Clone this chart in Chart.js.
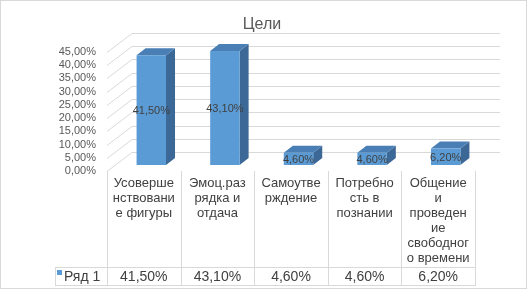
<!DOCTYPE html>
<html>
<head>
<meta charset="utf-8">
<script src="https://cdn.jsdelivr.net/npm/chart.js@4"></script>
<style>
  html, body { margin: 0; padding: 0; background: #fff; }
  canvas { display: block; }
</style>
</head>
<body>
<canvas id="myChart" width="528" height="290"></canvas>
<script>
const chartTitle = 'Цели'
const seriesName = 'Ряд 1'
const categories = [
    ['Усоверше', 'нствовани', 'е фигуры'],
    ['Эмоц.раз', 'рядка и', 'отдача'],
    ['Самоутве', 'рждение'],
    ['Потребно', 'сть в', 'познании'],
    ['Общение', 'и', 'проведен', 'ие', 'свободног', 'о времени']
]
const values = [41.5, 43.1, 4.6, 4.6, 6.2]
const yMax = 45
const yStep = 5

const FONT = '"Liberation Sans", Arial, sans-serif'
const wallDepth = { x: 25, y: 19 }
const barShift = { x: 7.5, y: 6 }
const barDepth = { x: 9, y: 7 }
const tableBottom = 285
const valueRowTop = 267
const tableLeft = 55

function fmtPct (v) {
    return v.toFixed(2).replace('.', ',') + '%'
}

// walls, title and frame
const backdrop = {
    id: 'backdrop',
    beforeDatasetsDraw (chart) {
        const ctx = chart.ctx
        const area = chart.chartArea
        const y = chart.scales.y
        ctx.save()
        ctx.strokeStyle = '#d9d9d9'
        ctx.lineWidth = 1
        ctx.strokeRect(0.5, 0.5, chart.width - 2, chart.height - 2)

        ctx.fillStyle = '#595959'
        ctx.font = '16px ' + FONT
        ctx.textAlign = 'center'
        ctx.textBaseline = 'alphabetic'
        ctx.fillText(chartTitle, 262, 29)

        ctx.strokeStyle = '#d9d9d9'
        for (let v = 0; v <= yMax; v += yStep) {
            const py = Math.round(y.getPixelForValue(v)) + 0.5
            ctx.beginPath()
            ctx.moveTo(area.left, py)
            ctx.lineTo(area.left + wallDepth.x, py - wallDepth.y)
            ctx.lineTo(area.right + wallDepth.x, py - wallDepth.y)
            ctx.stroke()
        }
        ctx.restore()
    },
    afterDatasetsDraw (chart) {
        const ctx = chart.ctx
        const meta = chart.getDatasetMeta(0)
        ctx.save()
        meta.data.forEach((bar, i) => {
            const p = bar.getProps(['x', 'y', 'base', 'width'], true)
            const left = p.x + barShift.x - p.width / 2
            const right = left + p.width
            const top = p.y - barShift.y
            const bottom = p.base - barShift.y
            // side
            ctx.fillStyle = '#3b6896'
            ctx.beginPath()
            ctx.moveTo(right, top)
            ctx.lineTo(right + barDepth.x, top - barDepth.y)
            ctx.lineTo(right + barDepth.x, bottom - barDepth.y)
            ctx.lineTo(right, bottom)
            ctx.closePath()
            ctx.fill()
            // top
            ctx.fillStyle = '#4a7fb6'
            ctx.beginPath()
            ctx.moveTo(left, top)
            ctx.lineTo(left + barDepth.x, top - barDepth.y)
            ctx.lineTo(right + barDepth.x, top - barDepth.y)
            ctx.lineTo(right, top)
            ctx.closePath()
            ctx.fill()
            // front
            ctx.fillStyle = '#5b9bd5'
            ctx.fillRect(left, top, p.width, bottom - top)

            ctx.fillStyle = '#404040'
            ctx.font = '11px ' + FONT
            ctx.textAlign = 'center'
            ctx.textBaseline = 'middle'
            ctx.fillText(fmtPct(values[i]), p.x + barShift.x, (top + bottom) / 2 + 1)
        })
        ctx.restore()
    }
}

// data table under the plot
const dataTable = {
    id: 'dataTable',
    afterDraw (chart) {
        const ctx = chart.ctx
        const area = chart.chartArea
        const x = chart.scales.x
        const colW = (area.right - area.left) / categories.length
        ctx.save()
        ctx.strokeStyle = '#d9d9d9'
        ctx.lineWidth = 1
        ctx.beginPath()
        for (let i = 0; i <= categories.length; i++) {
            const px = Math.round(area.left + i * colW) + 0.5
            ctx.moveTo(px, area.bottom)
            ctx.lineTo(px, tableBottom)
        }
        ctx.moveTo(tableLeft + 0.5, valueRowTop)
        ctx.lineTo(tableLeft + 0.5, tableBottom)
        ctx.moveTo(tableLeft, valueRowTop + 0.5)
        ctx.lineTo(area.right + 1, valueRowTop + 0.5)
        ctx.moveTo(tableLeft, tableBottom + 0.5)
        ctx.lineTo(area.right + 1, tableBottom + 0.5)
        ctx.stroke()

        ctx.fillStyle = '#404040'
        ctx.font = '13px ' + FONT
        ctx.textAlign = 'center'
        ctx.textBaseline = 'middle'
        categories.forEach((lines, i) => {
            const cx = x.getPixelForValue(i)
            lines.forEach((t, j) => ctx.fillText(t, cx, 183 + j * 15))
        })
        ctx.font = '14px ' + FONT
        values.forEach((v, i) => {
            ctx.fillText(fmtPct(v), x.getPixelForValue(i), (valueRowTop + tableBottom) / 2 + 1)
        })

        ctx.fillStyle = '#5b9bd5'
        ctx.fillRect(57, 270, 5, 5)
        ctx.fillStyle = '#404040'
        ctx.textAlign = 'left'
        ctx.fillText(seriesName, 64, (valueRowTop + tableBottom) / 2 + 1)
        ctx.restore()
    }
}

var ctx = document.getElementById('myChart').getContext('2d')
var myChart = new Chart(ctx, {
    type: 'bar',
    data: {
        labels: categories.map(c => c.join('')),
        datasets: [{
            label: seriesName,
            data: values,
            backgroundColor: 'rgba(0,0,0,0)',
            borderWidth: 0,
            categoryPercentage: 1,
            barPercentage: 0.4
        }]
    },
    options: {
        responsive: false,
        animation: false,
        layout: { padding: { left: 0, top: 52, right: 53, bottom: 119 } },
        plugins: {
            legend: { display: false },
            title: { display: false },
            tooltip: { enabled: false }
        },
        scales: {
            x: { display: false },
            y: {
                min: 0,
                max: yMax,
                ticks: {
                    stepSize: yStep,
                    autoSkip: false,
                    padding: 11,
                    color: '#595959',
                    font: { size: 11, family: FONT },
                    callback: v => fmtPct(v)
                },
                grid: { display: false, drawTicks: false },
                border: { display: false },
                afterFit (scale) { scale.width = 107 }
            }
        }
    },
    plugins: [backdrop, dataTable]
})
</script>
</body>
</html>
